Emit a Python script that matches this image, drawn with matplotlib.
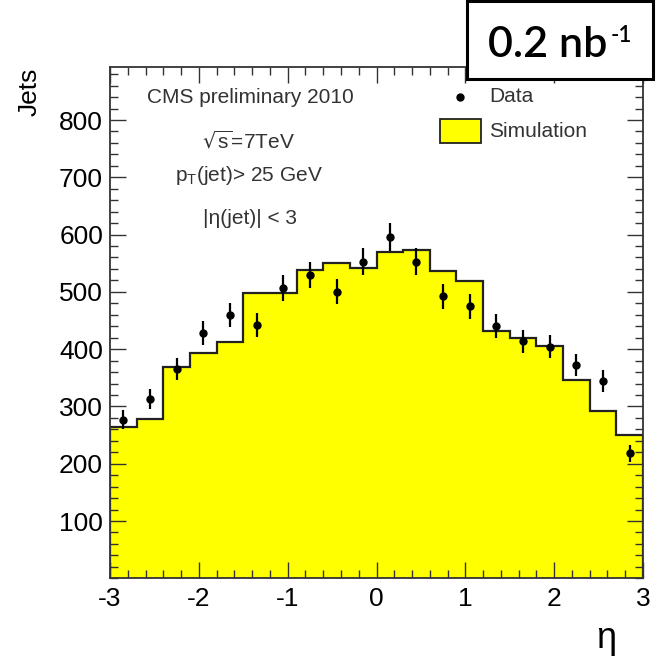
import numpy as np
import matplotlib
matplotlib.use("Agg")
import matplotlib.pyplot as plt
from matplotlib.patches import Rectangle
from matplotlib.ticker import MultipleLocator

plt.rcParams['font.family'] = ['Liberation Sans', 'DejaVu Sans']
plt.rcParams['axes.unicode_minus'] = False

# ---- data ----
bin_edges = [-3.0, -2.7, -2.4, -2.1, -1.8, -1.5, -1.2, -0.9, -0.6, -0.3, 0.0,
             0.3, 0.6, 0.9, 1.2, 1.5, 1.8, 2.1, 2.4, 2.7, 3.0]
simulation = [264, 278, 369, 393, 412, 498, 498, 539, 550, 541,
              569, 573, 537, 519, 432, 419, 406, 347, 292, 250]
data_counts = [277, 313, 366, 428, 460, 442, 507, 529, 500, 553,
               596, 553, 492, 475, 441, 414, 404, 373, 344, 218]
data_errors = [17, 18, 19, 21, 21, 21, 23, 23, 22, 24,
               24, 24, 22, 22, 21, 20, 20, 19, 19, 15]
x_ticks = [-3, -2, -1, 0, 1, 2, 3]
y_ticks = [100, 200, 300, 400, 500, 600, 700, 800]

W, H = 657, 668
fig = plt.figure(figsize=(W / 100, H / 100), dpi=100)
ax = fig.add_axes([110 / W, (H - 578.3) / H, (643 - 110) / W, (578.3 - 67.3) / H])

edges = np.array(bin_edges)
centers = 0.5 * (edges[:-1] + edges[1:])

ax.stairs(simulation, edges, fill=True, color='#ffff00', zorder=1)
ax.stairs(simulation, edges, color='#222222', linewidth=1.6, zorder=2)
ax.errorbar(centers, data_counts, yerr=data_errors, fmt='o', color='black',
            markersize=5, elinewidth=1.6, capsize=0, zorder=3)

ax.set_xlim(-3, 3)
ax.set_ylim(0, 892)
ax.set_xticks(x_ticks)
ax.set_yticks(y_ticks)
ax.xaxis.set_minor_locator(MultipleLocator(0.2))
ax.yaxis.set_minor_locator(MultipleLocator(20))
ax.tick_params(which='both', direction='in', top=True, right=True,
               width=1.0, color='#333333')
ax.tick_params(which='major', length=11.5, labelsize=19)
ax.tick_params(which='minor', length=6)
ax.tick_params(axis='y', pad=5)
ax.tick_params(axis='x', pad=6.5)
for s in ax.spines.values():
    s.set_linewidth(1.3)
    s.set_color('#333333')

ax.set_ylabel('Jets', fontsize=19, loc='top')
ax.yaxis.set_label_coords(-0.128, 1.0)
ax.set_xlabel('η', fontsize=26)
ax.xaxis.set_label_coords(0.9306, -0.083)

txt_kw = dict(transform=ax.transAxes, fontsize=15, color='#333333',
              ha='center', va='center')
ax.text(0.2627, 0.9407, 'CMS preliminary 2010', **txt_kw)
ax.text(0.259, 0.854, r'$\sqrt{\mathregular{s}}$=7TeV', **txt_kw)
ax.text(0.261, 0.789, r'p$_{\mathregular{T}}$(jet)> 25 GeV', **txt_kw)
ax.text(0.263, 0.705, '|η(jet)| < 3', **txt_kw)

# legend
ax.plot([0.6567], [0.942], 'o', color='black', markersize=5,
        transform=ax.transAxes, clip_on=False)
ax.text(0.7111, 0.942, 'Data', transform=ax.transAxes, fontsize=15,
        color='#333333', ha='left', va='center')
ax.add_patch(Rectangle((0.619, 0.852), 0.077, 0.047, transform=ax.transAxes,
                       facecolor='#ffff00', edgecolor='#222222', linewidth=1.3))
ax.text(0.7111, 0.8734, 'Simulation', transform=ax.transAxes, fontsize=15,
        color='#333333', ha='left', va='center')

# luminosity box
box = Rectangle((467 / W, 1 - 79 / H), (653 - 467) / W, (79 - 1) / H,
                transform=fig.transFigure, facecolor='white',
                edgecolor='black', linewidth=2.2, zorder=10)
fig.add_artist(box)
fig.text(488 / W, 1 - 57 / H, '0.2 nb', fontsize=31, family='Lato',
         weight='semibold', ha='left', va='baseline', zorder=11)
fig.text(611 / W, 1 - 42 / H, '-1', fontsize=16, family='Lato',
         weight='semibold', ha='left', va='baseline', zorder=11)

fig.savefig('out.png', dpi=100)
